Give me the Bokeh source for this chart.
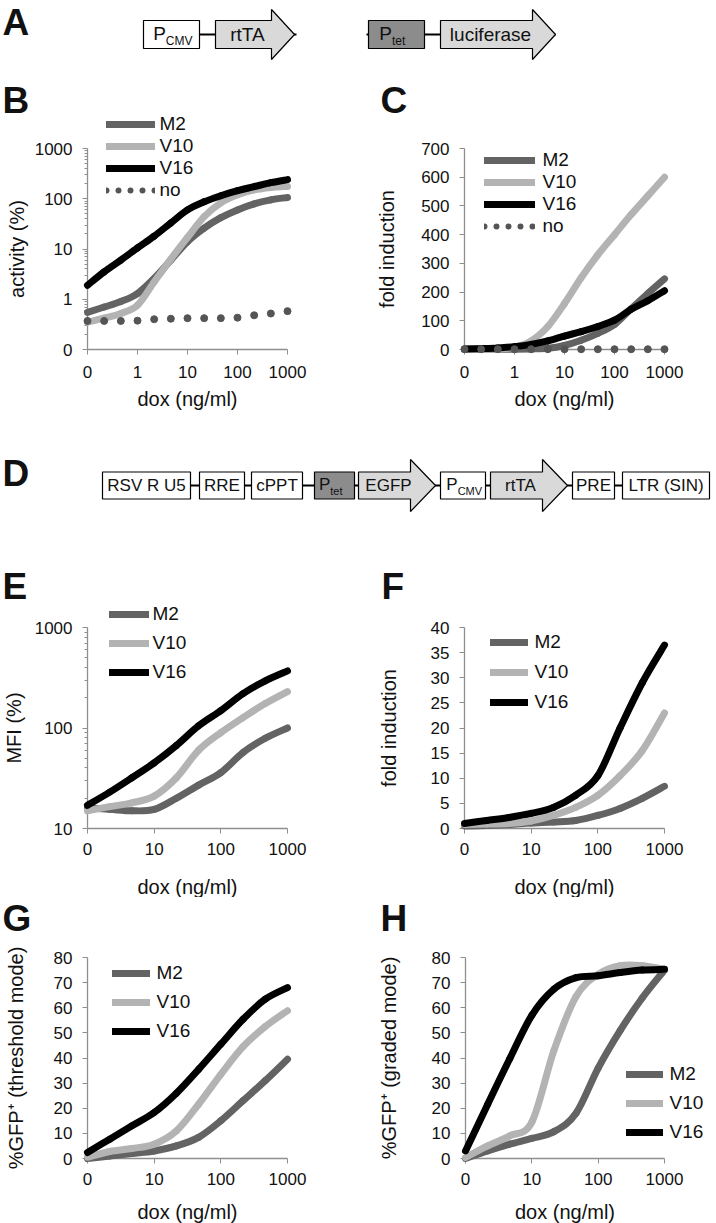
import math
from bokeh.plotting import figure
from bokeh.models import Range1d, FixedTicker, Legend, LegendItem, ColumnDataSource
from bokeh.layouts import column, row
from bokeh.core.properties import value
from bokeh.embed import file_html
from bokeh.resources import INLINE

FONT = "Liberation Sans"
C_M2 = "#636363"
C_V10 = "#b3b3b3"
C_V16 = "#000000"
C_NO = "#555555"
AXC = "#8f8f8f"
TXT = "#111111"

# ---------------- data ----------------
series_names = ["M2", "V10", "V16"]
no_name = "no"

# panels B and C (luciferase)
dose_BC = [0, 0.2, 0.5, 1, 2, 5, 10, 20, 50, 100, 200, 500, 1000]
xtick_labels_BC = ["0", "1", "10", "100", "1000"]
act_M2 = [0.55, 0.7, 0.9, 1.3, 2.6, 6, 14, 26, 42, 60, 79, 95, 106]
act_V10 = [0.35, 0.42, 0.52, 0.76, 2.2, 6.3, 17, 44, 83, 120, 150, 168, 176]
act_V16 = [1.9, 3.5, 6, 10.5, 18, 33, 60, 87, 115, 145, 174, 209, 240]
act_no = [0.37, 0.37, 0.37, 0.375, 0.40, 0.41, 0.42, 0.42, 0.42, 0.43, 0.48, 0.52, 0.58]
fold_M2 = [1, 1, 1, 1, 2, 4, 14, 32, 56, 87, 142, 195, 246]
fold_V10 = [1, 1, 2, 8, 30, 80, 160, 250, 330, 400, 470, 535, 600]
fold_V16 = [2, 3, 5, 10, 18, 30, 47, 62, 80, 102, 140, 170, 205]
fold_no = [1, 1, 1, 1, 1, 1, 1, 1, 1, 1, 1, 1, 1]

# panels E-H (lentiviral EGFP)
dose_EH = [0, 2, 5, 10, 20, 50, 100, 200, 500, 1000]
xtick_labels_EH = ["0", "10", "100", "1000"]
mfi_M2 = [16, 15.5, 15, 15.5, 20, 27, 36, 57, 79, 100]
mfi_V10 = [15, 16.5, 18, 21, 32, 60, 90, 127, 175, 230]
mfi_V16 = [17, 23, 32, 45, 67, 105, 149, 220, 295, 370]
gfold_M2 = [0.5, 0.6, 0.8, 1.1, 1.3, 1.6, 2.6, 4, 6, 8.4]
gfold_V10 = [0.8, 0.9, 1.0, 1.5, 2.6, 4.2, 6.6, 10.5, 15.5, 23]
gfold_V16 = [1.0, 1.6, 2.2, 3.0, 4.2, 6.6, 10.5, 20, 29, 36.5]
thr_M2 = [0, 1, 2, 3, 5, 8.4, 15, 23, 31, 39.5]
thr_V10 = [0.5, 2.8, 4, 5.7, 11, 21.6, 33.5, 44.5, 52.5, 58.8]
thr_V16 = [2.4, 7.7, 13, 18.3, 26, 35.5, 45.5, 55.4, 63.4, 68]
grd_M2 = [0, 3, 5.7, 8, 10.7, 18, 36, 51, 64, 75]
grd_V10 = [0.4, 5, 9, 14.5, 43, 64.5, 73.3, 76.7, 76.7, 75.3]
grd_V16 = [3, 21.5, 39.7, 57, 67.4, 72, 72.7, 74, 75, 75.3]

# construct labels
constructA = [("P", "CMV", "box"), ("rtTA", "", "arrow"), ("P", "tet", "tet"), ("luciferase", "", "arrow")]
constructD = [("RSV R U5", "", "box"), ("RRE", "", "box"), ("cPPT", "", "box"), ("P", "tet", "tet"),
              ("EGFP", "", "arrow"), ("P", "CMV", "box"), ("rtTA", "", "arrow"), ("PRE", "", "box"),
              ("LTR (SIN)", "", "box")]

PAGE_W = 716
LETTER_SIZE = 37


# ---------------- helpers ----------------
def canvas(top, bottom):
    p = figure(width=PAGE_W, height=bottom - top, x_range=Range1d(0, PAGE_W), y_range=Range1d(bottom, top),
               output_backend="svg", toolbar_location=None, title=None,
               x_axis_location=None, y_axis_location=None,
               min_border_left=0, min_border_right=0, min_border_top=0, min_border_bottom=0)
    p.grid.visible = False
    p.outline_line_color = None
    return p


def txt(p, x, y, s, size, align="left", baseline="middle", bold=False):
    p.text(x=[x], y=[y], text=[s], text_font=value(FONT), text_font_size=f"{size}px",
           text_align=align, text_baseline=baseline,
           text_font_style="bold" if bold else "normal", text_color=TXT)


def construct(p, items, spans, cy, bh, ah, fsize, subsize):
    p.segment(x0=[spans[0][0]], y0=[cy], x1=[spans[-1][1]], y1=[cy], line_color="#000000", line_width=2)
    for (lab, sub, kind), sp in zip(items, spans):
        l, r = sp[0], sp[1]
        if kind == "arrow":
            be = sp[2]
            xs = [l, be, be, r, be, be, l]
            ys = [cy - bh, cy - bh, cy - ah, cy, cy + ah, cy + bh, cy + bh]
            p.patch(xs, ys, fill_color="#d9d9d9", line_color="#000000", line_width=1.2)
            txt(p, (l + be) / 2 + 4, cy, lab, fsize, align="center")
        else:
            fill = "#8c8c8c" if kind == "tet" else "#ffffff"
            p.quad(left=[l], right=[r], top=[cy - bh], bottom=[cy + bh], fill_color=fill,
                   line_color="#000000", line_width=1.2)
            if sub:
                wP = 0.667 * fsize
                wS = 0.6 * subsize * len(sub) + (0.2 * subsize if sub == "CMV" else 0)
                x0 = (l + r) / 2 - (wP + wS) / 2
                txt(p, x0, cy - 1, lab, fsize)
                txt(p, x0 + wP, cy + 0.35 * fsize, sub, subsize)
            else:
                txt(p, (l + r) / 2, cy, lab, fsize, align="center")


class Chart:
    """A panel whose frame covers the whole figure; axes are pinned at the data origin."""

    def __init__(self, fx, fy, fw, fh, npts, x0px, x1px, ylo, yhi, ylo_px, yhi_px, ylog):
        self.fx, self.fy, self.fw, self.fh = fx, fy, fw, fh
        self.x0px = x0px
        self.ppx = (x1px - x0px) / (npts - 1)
        self.ylog = ylog
        self.a, b = (math.log10(ylo), math.log10(yhi)) if ylog else (ylo, yhi)
        self.ylo_px = ylo_px
        self.ppy = (ylo_px - yhi_px) / (b - self.a)
        xs, xe = self.dx(fx), self.dx(fx + fw)
        ys, ye = self.dy(fy + fh), self.dy(fy)
        p = figure(width=fw, height=fh, x_range=Range1d(xs, xe), y_range=Range1d(ys, ye),
                   y_axis_type="log" if ylog else "linear", output_backend="svg",
                   toolbar_location=None, title=None,
                   min_border_left=0, min_border_right=0, min_border_top=0, min_border_bottom=0)
        p.grid.visible = False
        p.outline_line_color = None
        p.xaxis.fixed_location = ylo
        p.yaxis.fixed_location = 0
        p.xaxis.bounds = (0, npts - 1)
        p.yaxis.bounds = (ylo, yhi)
        for ax in (p.xaxis[0], p.yaxis[0]):
            ax.level = "underlay"
            ax.axis_line_color = AXC
            ax.axis_line_width = 1.3
            ax.major_tick_line_color = AXC
            ax.minor_tick_line_color = AXC
            ax.major_tick_out = 5
            ax.major_tick_in = 0
            ax.minor_tick_out = 3
            ax.minor_tick_in = 0
            ax.major_label_text_font = FONT
            ax.major_label_text_font_size = "17px"
            ax.major_label_text_color = TXT
            ax.axis_label_text_font = FONT
            ax.axis_label_text_font_size = "20px"
            ax.axis_label_text_font_style = "normal"
            ax.axis_label_text_color = TXT
        p.xaxis.major_label_standoff = 8
        p.yaxis.major_label_standoff = 10
        self.p = p

    # page pixel -> data
    def dx(self, px):
        return (px - self.x0px) / self.ppx

    def dy(self, py):
        v = self.a + (self.ylo_px - py) / self.ppy
        return 10 ** v if self.ylog else v

    def letter(self, px, py, s):
        txt(self.p, self.dx(px), self.dy(py), s, LETTER_SIZE, bold=True)

    def xticks(self, labels):
        pos = [3 * i for i in range(len(labels))]
        self.p.xaxis.ticker = FixedTicker(ticks=pos, minor_ticks=[])
        self.p.xaxis.major_label_overrides = {k: v for k, v in zip(pos, labels)}
        self.p.xaxis.axis_label = "dox (ng/ml)"

    def yticks_lin(self, step, top):
        t = list(range(0, top + 1, step))
        self.p.yaxis.ticker = FixedTicker(ticks=t, minor_ticks=[])
        self.p.yaxis.major_label_overrides = {k: str(k) for k in t}

    def yticks_log(self, lo_exp, hi_exp, zero_label):
        t = [10.0 ** e for e in range(lo_exp, hi_exp + 1)]
        t[0] = 0.1 if lo_exp == -1 else t[0]
        minor = [m * 10.0 ** e for e in range(lo_exp, hi_exp) for m in range(2, 10)]
        self.p.yaxis.ticker = FixedTicker(ticks=t, minor_ticks=minor)
        labels = {}
        for i, v in enumerate(t):
            labels[v] = "0" if (zero_label and i == 0) else str(int(round(v)))
        self.p.yaxis.major_label_overrides = labels

    def curves(self, ys_list, colors, width=7):
        # smooth curve through every data point (spreadsheet-style smoothing)
        for ys, c in zip(ys_list, colors):
            n = len(ys)
            X = list(range(n))
            Y = [math.log10(v) for v in ys] if self.ylog else list(ys)
            conv = (lambda v: 10 ** v) if self.ylog else (lambda v: v)
            d = dict(x0=[], y0=[], x1=[], y1=[], cx0=[], cy0=[], cx1=[], cy1=[])
            for i in range(n - 1):
                pm = max(i - 1, 0)
                pp = min(i + 2, n - 1)
                d["x0"].append(X[i]); d["y0"].append(conv(Y[i]))
                d["x1"].append(X[i + 1]); d["y1"].append(conv(Y[i + 1]))
                d["cx0"].append(X[i] + (X[i + 1] - X[pm]) / 6)
                d["cy0"].append(conv(Y[i] + (Y[i + 1] - Y[pm]) / 6))
                d["cx1"].append(X[i + 1] - (X[pp] - X[i]) / 6)
                d["cy1"].append(conv(Y[i + 1] - (Y[pp] - Y[i]) / 6))
            self.p.bezier(source=ColumnDataSource(d), x0="x0", y0="y0", x1="x1", y1="y1",
                          cx0="cx0", cy0="cy0", cx1="cx1", cy1="cy1",
                          line_color=c, line_width=width, line_cap="round")

    def dots(self, ys):
        self.p.scatter(list(range(len(ys))), ys, size=7, color=C_NO)

    def legend(self, entries, glyph_left, glyph_w, standoff, first_center, pitch):
        items = []
        gx = self.dx(self.fx) - 50
        gy = self.dy(self.fy + self.fh / 2)
        for lab, col, dotted in entries:
            # legend-only renderer; its points lie outside the visible area
            src = ColumnDataSource(dict(x=[gx, gx - 1], y=[gy, gy]))
            r = self.p.line("x", "y", source=src, line_color=col, line_width=6 if dotted else 7,
                            line_cap="round", line_dash="0 12" if dotted else "solid")
            items.append(LegendItem(label=lab, renderers=[r]))
        row_h = 22
        n = len(entries)
        sp = max(int(round(pitch - row_h)), 0)
        top = first_center - row_h / 2
        height = n * row_h + (n - 1) * sp
        leg = Legend(items=items, location=(glyph_left - self.fx, self.fy + self.fh - (top + height)),
                     glyph_width=int(glyph_w), glyph_height=row_h, label_height=row_h,
                     label_standoff=int(round(standoff)), spacing=sp,
                     padding=0, margin=0, border_line_color=None, background_fill_alpha=0,
                     label_text_font=FONT, label_text_font_size="19px", label_text_color=TXT)
        self.p.add_layout(leg)


cols = [C_M2, C_V10, C_V16]
LEG4 = [("M2", C_M2, False), ("V10", C_V10, False), ("V16", C_V16, False), ("no", C_NO, True)]
LEG3 = [("M2", C_M2, False), ("V10", C_V10, False), ("V16", C_V16, False)]

# ---------------- A ----------------
top = canvas(0, 68)
txt(top, 2, 22, "A", LETTER_SIZE, bold=True)
construct(top, constructA,
          [(143, 199), (215, 294, 271), (368, 424), (440, 555, 532)],
          cy=34, bh=14, ah=25, fsize=19, subsize=12)
top.quad(left=[296], right=[366], top=[30], bottom=[38], fill_color="#ffffff", line_color=None)

# ---------------- B ----------------
B = Chart(0, 68, 358, 352, len(dose_BC), 87, 287, 0.1, 1000, 349, 148, True)
B.letter(2, 100, "B")
B.xticks(xtick_labels_BC)
B.yticks_log(-1, 3, True)
B.p.yaxis.axis_label = "activity (%)"
B.p.yaxis.axis_label_standoff = 4
B.p.xaxis.axis_label_standoff = 7
B.p.xaxis.major_label_standoff = 11
B.curves([act_M2, act_V10, act_V16], cols)
B.dots(act_no)
B.legend(LEG4, 105.5, 49, 5, 124, 22)

# ---------------- C ----------------
C = Chart(358, 68, 358, 352, len(dose_BC), 464, 664, 0, 700, 349, 148, False)
C.letter(380, 100, "C")
C.xticks(xtick_labels_BC)
C.yticks_lin(100, 700)
C.p.yaxis.axis_label = "fold induction"
C.p.yaxis.axis_label_standoff = 20
C.p.xaxis.axis_label_standoff = 7
C.p.xaxis.major_label_standoff = 11
C.curves([fold_M2, fold_V10, fold_V16], cols)
C.dots(fold_no)
C.legend(LEG4, 483.5, 51, 8, 160, 22.3)

# ---------------- D ----------------
mid = canvas(420, 540)
txt(mid, 2, 473, "D", LETTER_SIZE, bold=True)
construct(mid, constructD,
          [(102, 190), (199, 244), (251, 302), (314, 354), (358, 435, 410), (440, 485),
           (490, 567, 542), (572, 614), (622, 709)],
          cy=485, bh=13.5, ah=26, fsize=17, subsize=11)

# ---------------- E ----------------
E = Chart(0, 540, 358, 357, len(dose_EH), 87, 287, 10, 1000, 828, 627, True)
E.letter(2, 586, "E")
E.xticks(xtick_labels_EH)
E.yticks_log(1, 3, False)
E.p.yaxis.axis_label = "MFI (%)"
E.p.yaxis.axis_label_standoff = 7
E.p.xaxis.axis_label_standoff = 18
E.p.xaxis.major_label_standoff = 9
E.curves([mfi_M2, mfi_V10, mfi_V16], cols)
E.legend(LEG3, 108.5, 40, 4, 614, 29)

# ---------------- F ----------------
F = Chart(358, 540, 358, 357, len(dose_EH), 464, 664, 0, 40, 828, 627, False)
F.letter(381, 586, "F")
F.xticks(xtick_labels_EH)
F.yticks_lin(5, 40)
F.p.yaxis.axis_label = "fold induction"
F.p.yaxis.axis_label_standoff = 28
F.p.xaxis.axis_label_standoff = 18
F.p.xaxis.major_label_standoff = 9
F.curves([gfold_M2, gfold_V10, gfold_V16], cols)
F.legend(LEG3, 489.5, 38, 7, 642, 29.5)

# ---------------- G ----------------
G = Chart(0, 897, 358, 326, len(dose_EH), 87, 287, 0, 80, 1158, 957, False)
G.letter(2, 918, "G")
G.xticks(xtick_labels_EH)
G.yticks_lin(10, 80)
G.p.yaxis.axis_label = "%GFP\u207a (threshold mode)"
G.p.yaxis.axis_label_standoff = 24
G.p.xaxis.axis_label_standoff = 13
G.p.xaxis.major_label_standoff = 9
G.curves([thr_M2, thr_V10, thr_V16], cols)
G.legend(LEG3, 111.5, 38, 7, 973, 29)

# ---------------- H ----------------
H = Chart(358, 897, 358, 326, len(dose_EH), 465, 664, 0, 80, 1158, 957, False)
H.letter(380, 918, "H")
H.xticks(xtick_labels_EH)
H.yticks_lin(10, 80)
H.p.yaxis.axis_label = "%GFP\u207a (graded mode)"
H.p.yaxis.axis_label_standoff = 29
H.p.xaxis.axis_label_standoff = 13
H.p.xaxis.major_label_standoff = 9
H.curves([grd_M2, grd_V10, grd_V16], cols)
H.legend(LEG3, 625.5, 37, 7, 1074, 29)

layout = column(top, row(B.p, C.p), mid, row(E.p, F.p), row(G.p, H.p))
open("out.html", "w").write(file_html(layout, INLINE))
